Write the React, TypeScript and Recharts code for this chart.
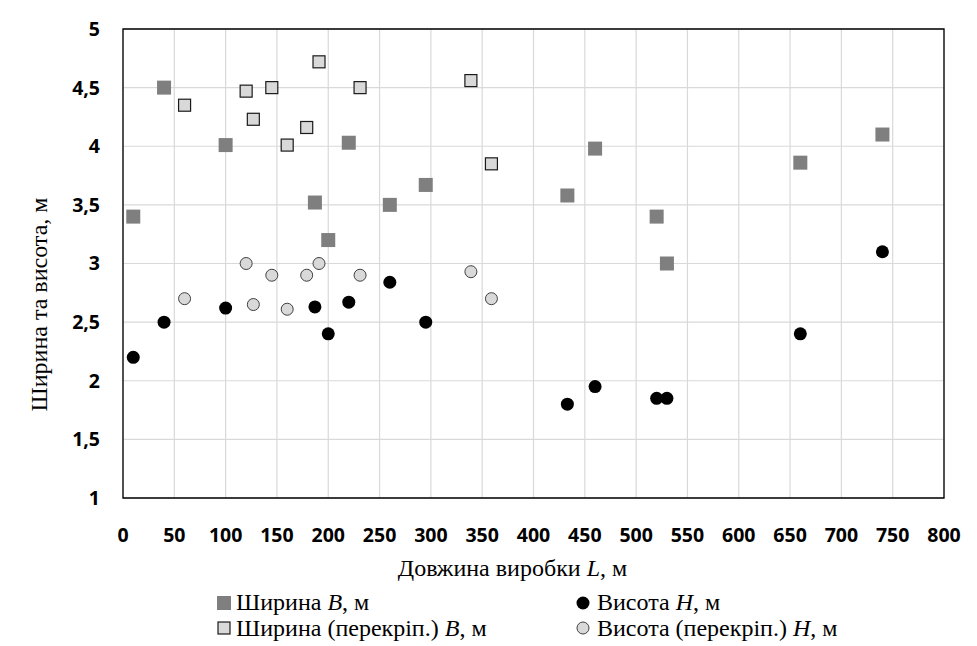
import {
  ScatterChart,
  Scatter,
  XAxis,
  YAxis,
  CartesianGrid,
  ReferenceArea,
  Legend,
  Label,
} from "recharts";

// довжина виробки L, м та розміри перерізу
const L_MAIN = [10, 40, 100, 187, 200, 220, 260, 295, 433, 460, 520, 530, 660, 740];
const B_MAIN = [3.4, 4.5, 4.01, 3.52, 3.2, 4.03, 3.5, 3.67, 3.58, 3.98, 3.4, 3.0, 3.86, 4.1];
const H_MAIN = [2.2, 2.5, 2.62, 2.63, 2.4, 2.67, 2.84, 2.5, 1.8, 1.95, 1.85, 1.85, 2.4, 3.1];

// виробки з перекріпленням
const L_OVER = [60, 120, 127, 145, 160, 179, 191, 231, 339, 359];
const B_OVER = [4.35, 4.47, 4.23, 4.5, 4.01, 4.16, 4.72, 4.5, 4.56, 3.85];
const H_OVER = [2.7, 3.0, 2.65, 2.9, 2.61, 2.9, 3.0, 2.9, 2.93, 2.7];

const X_TICKS = [0, 50, 100, 150, 200, 250, 300, 350, 400, 450, 500, 550, 600, 650, 700, 750, 800];
const Y_TICKS = [1, 1.5, 2, 2.5, 3, 3.5, 4, 4.5, 5];

const LEGEND_NAMES = [
  ["Ширина ", "B", ", м"],
  ["Висота ", "H", ", м"],
  ["Ширина (перекріп.) ", "B", ", м"],
  ["Висота (перекріп.) ", "H", ", м"],
];

const SERIF = "'Liberation Serif', Tinos, 'Times New Roman', 'DejaVu Serif', serif";
const SANS = "'Open Sans', sans-serif";

const toPoints = (xs: number[], ys: number[]) => xs.map((l, i) => ({ l, v: ys[i] }));

const widthMain = toPoints(L_MAIN, B_MAIN);
const heightMain = toPoints(L_MAIN, H_MAIN);
const widthOver = toPoints(L_OVER, B_OVER);
const heightOver = toPoints(L_OVER, H_OVER);

const DarkSquare = ({ cx, cy }: any) => (
  <rect x={cx - 7} y={cy - 7} width={14} height={14} fill="#7f7f7f" />
);
const LightSquare = ({ cx, cy }: any) => (
  <rect x={cx - 6} y={cy - 6} width={12} height={12} fill="#d9d9d9" stroke="#1a1a1a" strokeWidth={1.2} />
);
const BlackDot = ({ cx, cy }: any) => <circle cx={cx} cy={cy} r={6.5} fill="#000" />;
const LightDot = ({ cx, cy }: any) => (
  <circle cx={cx} cy={cy} r={6} fill="#d9d9d9" stroke="#404040" strokeWidth={1} />
);

const SHAPES = [DarkSquare, BlackDot, LightSquare, LightDot];

const XTitle = ({ viewBox }: any) => (
  <text
    x={viewBox.x + viewBox.width / 2 - 21}
    y={viewBox.y + 78}
    textAnchor="middle"
    style={{ fontFamily: SERIF, fontSize: 24 }}
    fill="#000"
  >
    Довжина виробки <tspan fontStyle="italic">L</tspan>, м
  </text>
);

const YTitle = ({ viewBox }: any) => {
  const cx = viewBox.x - 24;
  const cy = viewBox.y + viewBox.height / 2 + 41;
  return (
    <text
      x={cx}
      y={cy}
      transform={`rotate(-90, ${cx}, ${cy})`}
      textAnchor="middle"
      dominantBaseline="central"
      style={{ fontFamily: SERIF, fontSize: 24 }}
      fill="#000"
    >
      Ширина та висота, м
    </text>
  );
};

const renderLegend = () => (
  <div style={{ position: "relative", width: 977, height: 52, fontFamily: SERIF, fontSize: 24, color: "#000" }}>
    {LEGEND_NAMES.map(([before, letter, after], i) => {
      const Shape = SHAPES[i];
      return (
        <div
          key={i}
          style={{
            position: "absolute",
            left: i % 2 ? 575 : 216,
            top: Math.floor(i / 2) * 25.5,
            height: 25,
            display: "flex",
            alignItems: "center",
            whiteSpace: "nowrap",
          }}
        >
          <svg width={16} height={16}>
            <Shape cx={8} cy={8} />
          </svg>
          <span style={{ marginLeft: i % 2 ? 6 : 4, lineHeight: "25px" }}>
            {before}
            <i>{letter}</i>
            {after}
          </span>
        </div>
      );
    })}
  </div>
);

export default function App() {
  return (
    <div style={{ position: "absolute", left: 0, top: 0, width: 977, height: 646, background: "#fff" }}>
      <ScatterChart width={977} height={646} margin={{ top: 29, right: 33, bottom: 108, left: 63 }}>
        <CartesianGrid stroke="#d9d9d9" strokeWidth={1.2} />
        <XAxis
          type="number"
          dataKey="l"
          domain={[0, 800]}
          ticks={X_TICKS}
          interval={0}
          height={40}
          tickLine={false}
          axisLine={false}
          tickSize={0}
          tickMargin={30}
          tick={{ fill: "#000", fontSize: 19.5, fontWeight: 700, fontFamily: SANS }}
        >
          <Label content={XTitle} />
        </XAxis>
        <YAxis
          type="number"
          dataKey="v"
          domain={[1, 5]}
          ticks={Y_TICKS}
          interval={0}
          width={60}
          tickLine={false}
          axisLine={false}
          tickSize={0}
          tickMargin={23}
          tickFormatter={(v: number) => String(v).replace(".", ",")}
          tick={{ fill: "#000", fontSize: 19.5, fontWeight: 700, fontFamily: SANS }}
        >
          <Label content={YTitle} />
        </YAxis>
        <ReferenceArea x1={0} x2={800} y1={1} y2={5} fill="none" stroke="#000" strokeWidth={1.3} />
        <Legend
          layout="horizontal"
          verticalAlign="middle"
          align="center"
          content={renderLegend}
          wrapperStyle={{ left: 0, top: 590, width: 977 }}
        />
        <Scatter name="Ширина B, м" data={widthMain} shape={DarkSquare} isAnimationActive={false} />
        <Scatter name="Висота H, м" data={heightMain} shape={BlackDot} isAnimationActive={false} />
        <Scatter name="Ширина (перекріп.) B, м" data={widthOver} shape={LightSquare} isAnimationActive={false} />
        <Scatter name="Висота (перекріп.) H, м" data={heightOver} shape={LightDot} isAnimationActive={false} />
      </ScatterChart>
    </div>
  );
}
